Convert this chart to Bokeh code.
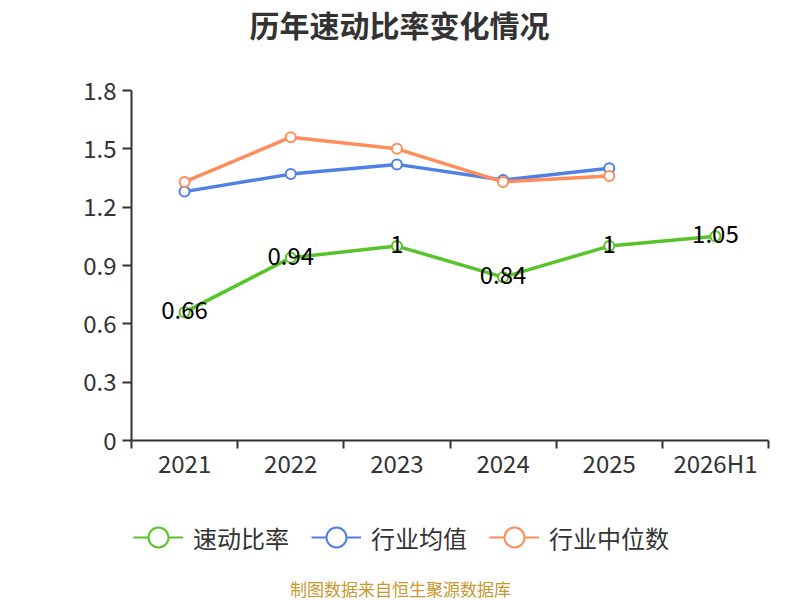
import numpy as np
from bokeh.plotting import figure
from bokeh.models import (Range1d, FixedTicker, Legend, LegendItem, Label,
                          ColumnDataSource, LinearAxis)
from bokeh.layouts import column
from bokeh.core.properties import value
from bokeh.embed import file_html
from bokeh.resources import INLINE

# ---- data ----
categories = ["2021", "2022", "2023", "2024", "2025", "2026H1"]
quick_ratio = [0.66, 0.94, 1.00, 0.84, 1.00, 1.05]
industry_mean = [1.28, 1.37, 1.42, 1.34, 1.40]
industry_median = [1.33, 1.56, 1.50, 1.33, 1.36]
y_ticks = [0, 0.3, 0.6, 0.9, 1.2, 1.5, 1.8]
y_tick_labels = ["0", "0.3", "0.6", "0.9", "1.2", "1.5", "1.8"]
series_names = ["速动比率", "行业均值", "行业中位数"]
title_text = "历年速动比率变化情况"
footer_text = "制图数据来自恒生聚源数据库"

FONT = "Noto Sans CJK SC"
GREEN = "#58c42a"
BLUE = "#4f80e6"
ORANGE = "#ff8d5b"
COLORS = [GREEN, BLUE, ORANGE]

xs = [i + 0.5 for i in range(len(categories))]

LEFT = 131   # frame left edge (shared by all stacked figures)


def blank_fig(h):
    f = figure(width=800, height=h, output_backend="svg", toolbar_location=None,
               x_range=Range1d(0, 1), y_range=Range1d(0, 1),
               x_axis_type=None, y_axis_type=None,
               min_border_left=0, min_border_right=0, min_border_top=0, min_border_bottom=0)
    f.outline_line_color = None
    f.xgrid.visible = False
    f.ygrid.visible = False
    f.background_fill_color = "white"
    f.border_fill_color = "white"
    return f


# ---- title strip ----
t = blank_fig(60)
t.add_layout(Label(x=399 - LEFT, y=37, x_units="screen", y_units="screen", text=title_text,
                   text_align="center", text_baseline="middle", text_font=FONT,
                   text_font_size="30px", text_font_style="bold", text_color="#333333"))

# ---- main chart ----
p = figure(width=800, height=440, output_backend="svg", toolbar_location=None,
           x_range=Range1d(0, len(categories)), y_range=Range1d(0, 1.8),
           x_axis_type=None, y_axis_type=None,
           min_border_left=LEFT, min_border_right=32,
           min_border_top=30, min_border_bottom=60)
p.outline_line_color = None
p.background_fill_color = "white"
p.border_fill_color = "white"

xaxis = LinearAxis(ticker=FixedTicker(ticks=xs, minor_ticks=list(range(len(categories) + 1))),
                   major_label_overrides={x: c for x, c in zip(xs, categories)})
xaxis.major_tick_out = 0
xaxis.major_tick_in = 0
xaxis.minor_tick_out = 8
xaxis.minor_tick_in = 0
xaxis.minor_tick_line_color = "#333333"
xaxis.minor_tick_line_width = 2
xaxis.axis_line_color = "#333333"
xaxis.axis_line_width = 2
xaxis.major_label_text_font = FONT
xaxis.major_label_text_font_size = "24px"
xaxis.major_label_text_color = "#333333"
xaxis.major_label_standoff = -4
p.add_layout(xaxis, "below")

yaxis = LinearAxis(ticker=FixedTicker(ticks=y_ticks, minor_ticks=[]),
                   major_label_overrides={tk: l for tk, l in zip(y_ticks, y_tick_labels)})
yaxis.major_tick_out = 9
yaxis.major_tick_in = 0
yaxis.major_tick_line_color = "#333333"
yaxis.major_tick_line_width = 2
yaxis.axis_line_color = "#333333"
yaxis.axis_line_width = 2
yaxis.major_label_text_font = FONT
yaxis.major_label_text_font_size = "24px"
yaxis.major_label_text_color = "#333333"
yaxis.major_label_standoff = 6
p.add_layout(yaxis, "left")

p.ygrid.ticker = FixedTicker(ticks=y_ticks[1:])
p.ygrid.grid_line_color = "#cccccc"
p.ygrid.grid_line_width = 1.5
p.ygrid.grid_line_dash = "9 5"
p.xgrid.visible = False

for vals, color in zip([quick_ratio, industry_mean, industry_median], COLORS):
    src = ColumnDataSource(dict(x=xs[:len(vals)], y=vals))
    p.line("x", "y", source=src, line_color=color, line_width=3.5)
    p.scatter("x", "y", source=src, size=10, marker="circle",
              fill_color="white", line_color=color, line_width=2)

lab_src = ColumnDataSource(dict(x=xs, y=quick_ratio, t=[f"{v:g}" for v in quick_ratio]))
p.text("x", "y", text="t", source=lab_src, text_align="center", text_baseline="middle",
       text_font=value(FONT), text_font_size="24px", text_color="black", y_offset=-2)

# ---- legend + footer strip ----
b = blank_fig(100)
items = []
for name, color in zip(series_names, COLORS):
    proxy = ColumnDataSource(dict(x=np.array([np.nan]), y=np.array([np.nan])))
    ln = b.line("x", "y", source=proxy, line_color=color, line_width=2)
    sc = b.scatter("x", "y", source=proxy, marker="circle", fill_color="white",
                   line_color=color, line_width=2)
    items.append(LegendItem(label=name, renderers=[ln, sc]))

legend = Legend(items=items, orientation="horizontal", location=(133 - LEFT, 33))
legend.glyph_width = 50
legend.glyph_height = 60
legend.label_standoff = 10
legend.spacing = 22
legend.padding = 0
legend.margin = 0
legend.border_line_color = None
legend.background_fill_alpha = 0
legend.label_text_font = FONT
legend.label_text_font_size = "24px"
legend.label_text_color = "#333333"
b.add_layout(legend, "center")

b.add_layout(Label(x=400 - LEFT, y=12, x_units="screen", y_units="screen", text=footer_text,
                   text_align="center", text_baseline="middle", text_font=FONT,
                   text_font_size="17px", text_color="#c9972f"))

layout = column(t, p, b, spacing=0)
open("out.html", "w").write(file_html(layout, INLINE))
